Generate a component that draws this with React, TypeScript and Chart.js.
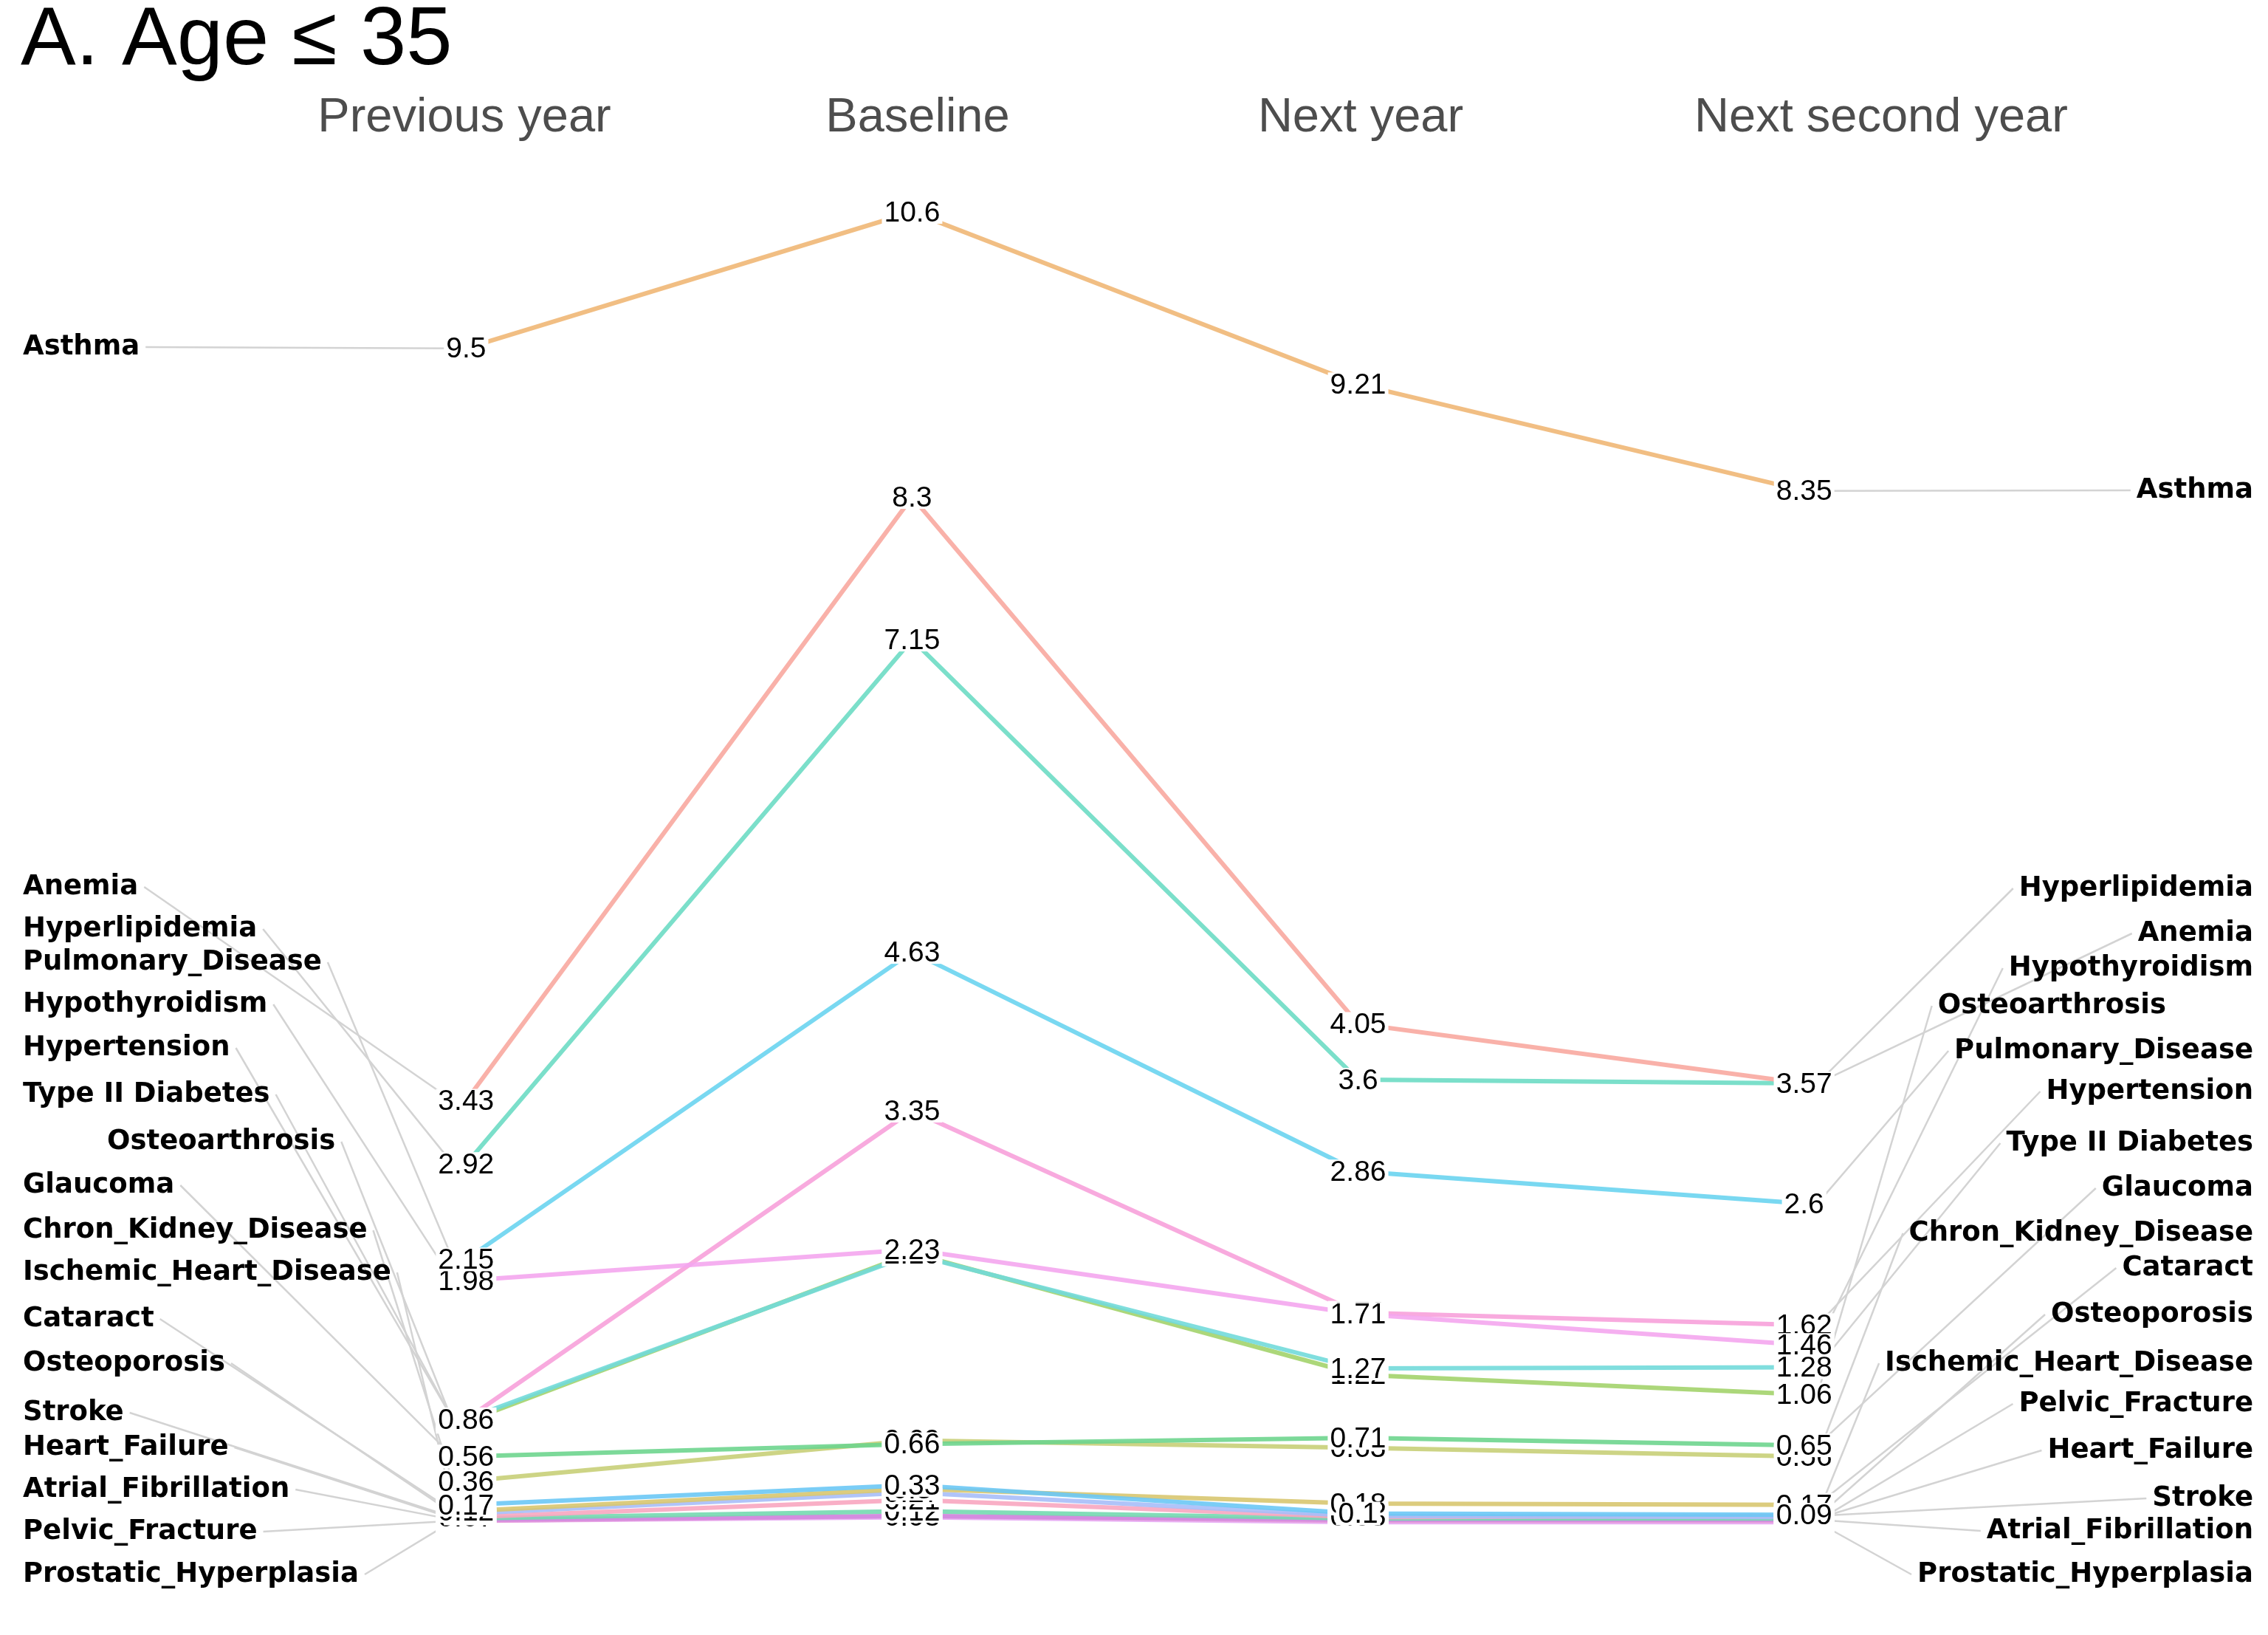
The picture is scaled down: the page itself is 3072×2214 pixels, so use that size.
import { useEffect, useRef } from 'react';
import Chart from 'chart.js/auto';

const periods = ['Previous year', 'Baseline', 'Next year', 'Next second year'];

const diseases = [
  'Asthma', 'Anemia', 'Hyperlipidemia', 'Pulmonary_Disease', 'Hypothyroidism', 'Hypertension',
  'Type II Diabetes', 'Osteoarthrosis', 'Glaucoma', 'Chron_Kidney_Disease', 'Ischemic_Heart_Disease',
  'Cataract', 'Osteoporosis', 'Stroke', 'Heart_Failure', 'Atrial_Fibrillation', 'Pelvic_Fracture',
  'Prostatic_Hyperplasia',
];

const asthma = [9.5, 10.6, 9.21, 8.35];
const anemia = [3.43, 8.3, 4.05, 3.57];
const hyperlipidemia = [2.92, 7.15, 3.6, 3.57];
const pulmonary = [2.15, 4.63, 2.86, 2.6];
const hypothyroidism = [1.98, 2.23, 1.71, 1.46];
const hypertension = [0.86, 3.35, 1.72, 1.62];
const diabetes = [0.86, 2.19, 1.27, 1.28];
const osteoarthrosis = [0.84, 2.2, 1.22, 1.06];
const glaucoma = [0.56, 0.66, 0.71, 0.65];
const kidney = [0.36, 0.69, 0.63, 0.56];
const ischemic = [0.17, 0.33, 0.1, 0.09];
const cataract = [0.12, 0.3, 0.18, 0.17];
const osteoporosis = [0.1, 0.27, 0.08, 0.07];
const stroke = [0.07, 0.21, 0.07, 0.08];
const heartFailure = [0.06, 0.12, 0.06, 0.06];
const atrial = [0.05, 0.08, 0.05, 0.05];
const pelvic = [0.04, 0.08, 0.04, 0.04];
const prostatic = [0.04, 0.07, 0.03, 0.03];

const series = [
  asthma, anemia, hyperlipidemia, pulmonary, hypothyroidism, hypertension, diabetes, osteoarthrosis,
  glaucoma, kidney, ischemic, cataract, osteoporosis, stroke, heartFailure, atrial, pelvic, prostatic,
];

const colors = [
  '#F0B775', '#F8A8A0', '#6DDCC4', '#6AD4F0', '#F4A6EE', '#F7A1DA', '#72DADA', '#A3D36B', '#6ED58E',
  '#C8CF78', '#6CC8F5', '#D8C770', '#A7BEF8', '#F8A6C0', '#74D9B0', '#D18BE0', '#E79BD8', '#E5A9F4',
];

// label layout (pixel y of label rows), same order as diseases
const leftLabelY = [470, 1201, 1258, 1303, 1360, 1419, 1482, 1546, 1605, 1666, 1723, 1786, 1846, 1913, 1960, 2017, 2074, 2132];
const leftLabelX = diseases.map((d) => (d === 'Osteoarthrosis' ? 145 : 31));
const rightLabelY = [664, 1264, 1203, 1423, 1311, 1478, 1548, 1362, 1609, 1670, 1846, 1717, 1780, 2029, 1964, 2073, 1901, 2132];
const rightLabelX = diseases.map((d) => (d === 'Osteoarthrosis' ? 2934 : 3052));
const headerX = [629, 1243, 1843, 2548];

const FONT = '"Liberation Sans", Arial, sans-serif';

const labelPlugin = {
  id: 'slopeLabels',
  beforeDatasetsDraw(chart: any) {
    const { ctx, scales } = chart;
    const x1 = scales.x.getPixelForValue(1);
    const x4 = scales.x.getPixelForValue(4);
    ctx.save();
    ctx.font = `bold 37px "DejaVu Sans", sans-serif`;
    ctx.strokeStyle = '#D3D3D3';
    ctx.lineWidth = 2.5;
    diseases.forEach((d, i) => {
      const wl = ctx.measureText(d).width;
      const yl = scales.y.getPixelForValue(series[i][0]);
      ctx.beginPath();
      ctx.moveTo(leftLabelX[i] + wl + 8, leftLabelY[i]);
      ctx.lineTo(x1 - 18, yl);
      ctx.stroke();
      const yr = scales.y.getPixelForValue(series[i][3]);
      ctx.beginPath();
      ctx.moveTo(x4 + 18, yr);
      ctx.lineTo(rightLabelX[i] - wl - 8, rightLabelY[i]);
      ctx.stroke();
    });
    ctx.fillStyle = '#000';
    ctx.textBaseline = 'middle';
    diseases.forEach((d, i) => {
      ctx.textAlign = 'left';
      ctx.fillText(d, leftLabelX[i], leftLabelY[i]);
      ctx.textAlign = 'right';
      ctx.fillText(d, rightLabelX[i], rightLabelY[i]);
    });
    ctx.restore();
  },
  afterDatasetsDraw(chart: any) {
    const { ctx, scales } = chart;
    ctx.save();
    ctx.font = `39px ${FONT}`;
    ctx.textAlign = 'center';
    ctx.textBaseline = 'middle';
    [...series].reverse().forEach((vals) => {
      vals.forEach((v, j) => {
        const x = scales.x.getPixelForValue(j + 1);
        const y = scales.y.getPixelForValue(v);
        const t = String(v);
        const w = ctx.measureText(t).width;
        ctx.fillStyle = '#fff';
        ctx.fillRect(x - w / 2 - 3, y - 16, w + 6, 32);
        ctx.fillStyle = '#000';
        ctx.fillText(t, x, y + 2);
      });
    });
    ctx.font = `65px ${FONT}`;
    ctx.fillStyle = '#4D4D4D';
    periods.forEach((p, j) => {
      ctx.fillText(p, headerX[j], 160);
    });
    ctx.font = `112px ${FONT}`;
    ctx.fillStyle = '#000';
    ctx.textAlign = 'left';
    ctx.fillText('A. Age ≤ 35', 28, 56);
    ctx.restore();
  },
};

export default function App() {
  const ref = useRef<HTMLCanvasElement | null>(null);

  useEffect(() => {
    document.body.style.margin = '0';
    if (!ref.current) return;
    const chart = new Chart(ref.current, {
      type: 'line',
      data: {
        datasets: series.map((vals, i) => ({
          label: diseases[i],
          data: vals.map((v, j) => ({ x: j + 1, y: v })),
          borderColor: colors[i] + 'E6',
          borderWidth: 6,
          pointRadius: 0,
          tension: 0,
          fill: false,
        })),
      },
      options: {
        animation: false,
        responsive: false,
        layout: { padding: 0 },
        plugins: { legend: { display: false }, tooltip: { enabled: false } },
        scales: {
          x: { type: 'linear', min: -0.045, max: 5.04, display: false },
          y: { type: 'linear', min: -0.88, max: 12.31, display: false },
        },
      },
      plugins: [labelPlugin],
    });
    return () => chart.destroy();
  }, []);

  return <canvas ref={ref} width={3072} height={2214} style={{ display: 'block' }} />;
}
